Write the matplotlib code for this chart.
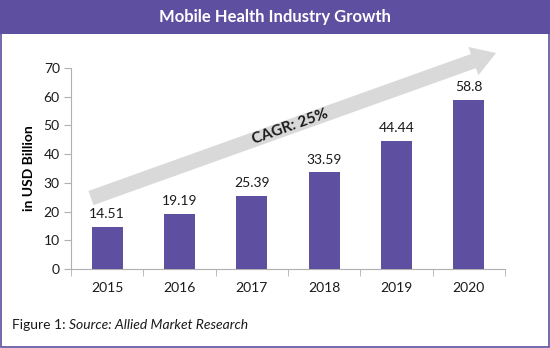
import matplotlib
matplotlib.use("Agg")
import matplotlib.pyplot as plt
from matplotlib.patches import FancyArrow, Rectangle
import numpy as np

# datos del grafico
anios = ['2015', '2016', '2017', '2018', '2019', '2020']
valores = [14.51, 19.19, 25.39, 33.59, 44.44, 58.8]
etiquetas = ['14.51', '19.19', '25.39', '33.59', '44.44', '58.8']

morado = '#5E4FA0'
gris_eje = '#B0B0B0'

plt.rcParams['font.family'] = ['Lato', 'DejaVu Sans']

fig = plt.figure(figsize=(5.5, 3.48), dpi=100)
ax = fig.add_axes([0.129, 0.227, 0.789, 0.578])

x = np.arange(len(anios))
barras = ax.bar(x, valores, width=0.43, color=morado, zorder=3)
for b, txt in zip(barras, etiquetas):
    ax.annotate(txt, (b.get_x() + b.get_width() / 2, b.get_height()),
                xytext=(0, 5), textcoords='offset points',
                ha='center', va='bottom', fontsize=10, color='#1a1a1a')

ax.set_xlim(-0.5, len(anios) - 0.5)
ax.set_ylim(0, 70)
ax.set_yticks(range(0, 71, 10))
ax.set_xticks(x)
ax.set_xticklabels(anios)
ax.set_xticks(np.arange(-0.5, len(anios), 1), minor=True)
ax.tick_params(axis='x', which='major', length=0, pad=9, labelsize=10)
ax.tick_params(axis='x', which='minor', length=5, color=gris_eje)
ax.tick_params(axis='y', length=5, color=gris_eje, labelsize=10, pad=3)
for lab in ax.get_xticklabels() + ax.get_yticklabels():
    lab.set_color('#1a1a1a')

for lado in ['top', 'right']:
    ax.spines[lado].set_visible(False)
ax.spines['left'].set_color(gris_eje)
ax.spines['bottom'].set_color(gris_eje)

ax.set_ylabel('in USD Billion', fontsize=10, fontweight='bold', labelpad=6)

# flecha CAGR (en pulgadas de la figura)
flecha = FancyArrow(0.91, 1.50, 4.05, 1.45, width=0.15, head_width=0.30,
                    head_length=0.24, length_includes_head=True,
                    color='#D9D9D9', lw=0, transform=fig.dpi_scale_trans,
                    zorder=1)
fig.add_artist(flecha)
fig.text(2.90, 2.21, 'CAGR: 25%', transform=fig.dpi_scale_trans,
         rotation=19.7, ha='center', va='center', fontsize=11,
         fontweight='bold', color='#1a1a1a', rotation_mode='anchor')

# barra del titulo
fig.add_artist(Rectangle((0, 1 - 34 / 348), 1, 34 / 348,
                         transform=fig.transFigure, color=morado, lw=0))
fig.text(0.5, 1 - 17 / 348, 'Mobile Health Industry Growth', ha='center',
         va='center', color='white', fontsize=12, fontweight='bold')

# borde
fig.add_artist(Rectangle((0.001, 0.0015), 0.998, 0.997,
                         transform=fig.transFigure, fill=False,
                         edgecolor=morado, lw=1.2))

# pie de figura
t1 = fig.text(12 / 550, 1 - 325 / 348, 'Figure 1: ', ha='left', va='center',
              fontsize=10, color='#1a1a1a')
r = fig.canvas.get_renderer()
bb = t1.get_window_extent(renderer=r)
fig.text(bb.x1 / fig.bbox.width, 1 - 325 / 348,
         'Source: Allied Market Research', ha='left', va='center',
         fontsize=10, style='italic', color='#1a1a1a')

fig.savefig('out.png', dpi=100)
